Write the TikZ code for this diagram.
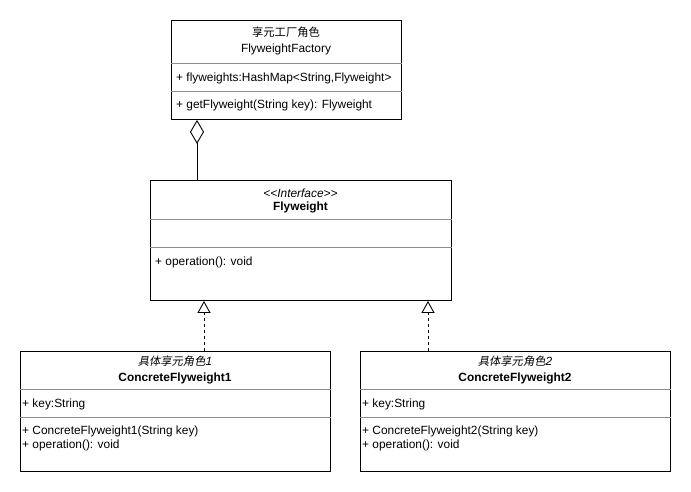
\documentclass[tikz,border=0pt]{standalone}
\usepackage{fontspec}
\setmainfont{Liberation Sans}
\newfontfamily\cjk[Scale=0.95]{Noto Sans CJK SC}
\newfontfamily\cjkit[Scale=0.95,FakeSlant=0.2]{Noto Sans CJK SC}
\usetikzlibrary{arrows.meta}
\tikzset{%
  tipD/.tip={Diamond[open,length=24pt,width=14pt]},
  tipT/.tip={Triangle[open,length=12pt,width=13pt]},
  umlbox/.style={draw=black, line width=0.9pt, inner sep=0pt, anchor=north west},
  sepline/.style={draw=black!45, line width=0.8pt},
  txt/.style={inner sep=0pt, anchor=mid, font=\fontsize{11.9}{14}\selectfont},
  ltxt/.style={txt, anchor=mid west},
  aggr/.style={tipD-, line width=0.9pt},
  real/.style={-tipT, line width=0.9pt, dash pattern=on 3pt off 3pt}
}

\begin{document}
\begin{tikzpicture}[x=1pt,y=-1pt]
\useasboundingbox[fill=white] (0,0) rectangle (691,491);
% boxes
\node[umlbox, minimum width=230pt, minimum height=99pt] (factory) at (171,20) {};
\node[umlbox, minimum width=301pt, minimum height=120pt] (fw) at (150,180) {};
\node[umlbox, minimum width=310pt, minimum height=120pt] (cf1) at (20,351) {};
\node[umlbox, minimum width=310pt, minimum height=120pt] (cf2) at (360,351) {};
% compartments
\draw[sepline] ([yshift=-43pt]factory.north west) -- ([yshift=-43pt]factory.north east);
\draw[sepline] ([yshift=-71pt]factory.north west) -- ([yshift=-71pt]factory.north east);
\draw[sepline] ([yshift=-39pt]fw.north west) -- ([yshift=-39pt]fw.north east);
\draw[sepline] ([yshift=-67pt]fw.north west) -- ([yshift=-67pt]fw.north east);
\draw[sepline] ([yshift=-38pt]cf1.north west) -- ([yshift=-38pt]cf1.north east);
\draw[sepline] ([yshift=-66pt]cf1.north west) -- ([yshift=-66pt]cf1.north east);
\draw[sepline] ([yshift=-38pt]cf2.north west) -- ([yshift=-38pt]cf2.north east);
\draw[sepline] ([yshift=-66pt]cf2.north west) -- ([yshift=-66pt]cf2.north east);
% texts
\node[txt] (factoryrole) at (286,33.5) {\cjk 享元工厂角色};
\node[txt] (factoryname) at (286,49.5) {FlyweightFactory};
\node[ltxt] (factoryattr) at (176,78.5) {+ flyweights:HashMap<String,Flyweight>};
\node[ltxt] (factoryop) at (176,105.5) {+ getFlyweight(String key): Flyweight};
\node[txt] (fwstereo) at (300.5,194.5) {\itshape {<}{<}Interface{>}{>}};
\node[txt] (fwname) at (300.5,207.5) {\bfseries Flyweight};
\node[ltxt] (fwop) at (155,262.5) {+ operation(): void};
\node[txt] (cfrole1) at (175,362.5) {{\cjkit 具体享元角色}\textit{1}};
\node[txt] (cfname1) at (175,378.5) {\bfseries ConcreteFlyweight1};
\node[ltxt] (cfattr1) at (22,404.5) {+ key:String};
\node[ltxt] (cfctor1) at (22,431.5) {+ ConcreteFlyweight1(String key)};
\node[ltxt] (cfop1) at (22,445.5) {+ operation(): void};
\node[txt] (cfrole2) at (515,362.5) {{\cjkit 具体享元角色}\textit{2}};
\node[txt] (cfname2) at (515,378.5) {\bfseries ConcreteFlyweight2};
\node[ltxt] (cfattr2) at (362,404.5) {+ key:String};
\node[ltxt] (cfctor2) at (362,431.5) {+ ConcreteFlyweight2(String key)};
\node[ltxt] (cfop2) at (362,445.5) {+ operation(): void};
% connectors
\coordinate (aggx) at (197,0);
\coordinate (realx1) at (204,0);
\coordinate (realx2) at (428,0);
\draw[aggr] (factory.south -| aggx) -- (fw.north -| aggx);
\draw[real] (cf1.north -| realx1) -- (fw.south -| realx1);
\draw[real] (cf2.north -| realx2) -- (fw.south -| realx2);
\end{tikzpicture}
\end{document}
